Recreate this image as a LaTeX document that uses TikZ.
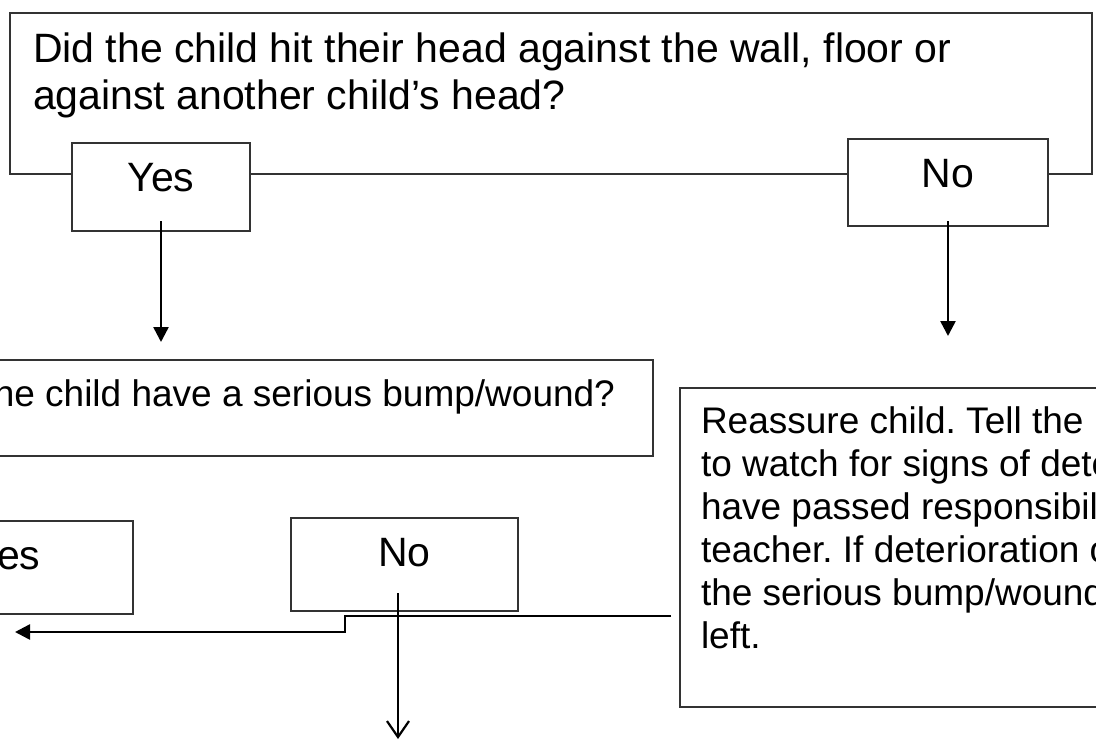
\documentclass[tikz,border=0pt]{standalone}
\usepackage{fontspec}
\setmainfont{Liberation Sans}
\usetikzlibrary{arrows.meta}

\newcommand{\boxtext}[3]{\parbox[t][#2][t]{#1}{\raggedright #3}}

\begin{document}
\frenchspacing
\begin{tikzpicture}[x=1pt,y=-1pt,
    box/.style={draw=black!80,line width=1.4pt,fill=white,inner sep=0pt,outer sep=0pt,
                anchor=north west,inner ysep=20pt},
    big/.style={font=\fontsize{41}{47}\selectfont},
    small/.style={font=\fontsize{37}{43}\selectfont},
    arr/.style={-{Triangle[length=15pt,width=15pt]},line width=2.5pt},
    open/.style={-{Straight Barb[length=16pt,width=22pt]},line width=2.2pt}]
   \useasboundingbox (0,0) rectangle (1096,753);
   \clip (0,0) rectangle (1096,753);

   % first question and its answers
   \node[box,big,inner xsep=23pt] (ask_0) at (10,13)
      {\boxtext{1036pt}{121pt}{Did the child hit their head against the wall, floor or\\against another child’s head?}};
   \node[box,big] (yes_0) at (72,143) {\boxtext{178pt}{48pt}{\centering Yes}};
   \node[box,big] (no_0) at (848,139) {\boxtext{200pt}{47pt}{\centering No}};

   % second question
   \node[box,small,anchor=north east,inner xsep=38pt] (ask_1) at (653,360)
      {\parbox[t][56pt][t]{800pt}{\raggedleft Does the child have a serious bump/wound?}};
   \node[box,big] (yes_1) at (-119,521) {\boxtext{252pt}{53pt}{\centering Yes}};
   \node[box,big] (no_1) at (291,518) {\boxtext{227pt}{53pt}{\centering No}};

   \node[box,small,inner xsep=21pt,inner ysep=19pt] (calm) at (680,388)
      {\boxtext{900pt}{281pt}{Reassure child. Tell the\\to watch for signs of deterioration\\have passed responsibility\\teacher. If deterioration occurs\\the serious bump/wound\\left.}};

   \coordinate (t_0) at (yes_0.south |- ask_1.north);
   \coordinate (t_1) at (no_0.south |- calm.north);
   \coordinate (turn) at (345,616);
   \coordinate (back) at (15,632);
   \coordinate (down) at (398,739);

   \path[arr]
    ([yshift=10pt]yes_0.south) edge ([yshift=18pt]t_0)
    ([yshift=5pt]no_0.south) edge ([yshift=52pt]t_1);
   \draw[arr] (calm.west |- turn) ++(-9,0) -- (turn) |- (back);
   \draw[open] (down |- no_1.south) ++(0,-18) -- (down);
\end{tikzpicture}
\end{document}
